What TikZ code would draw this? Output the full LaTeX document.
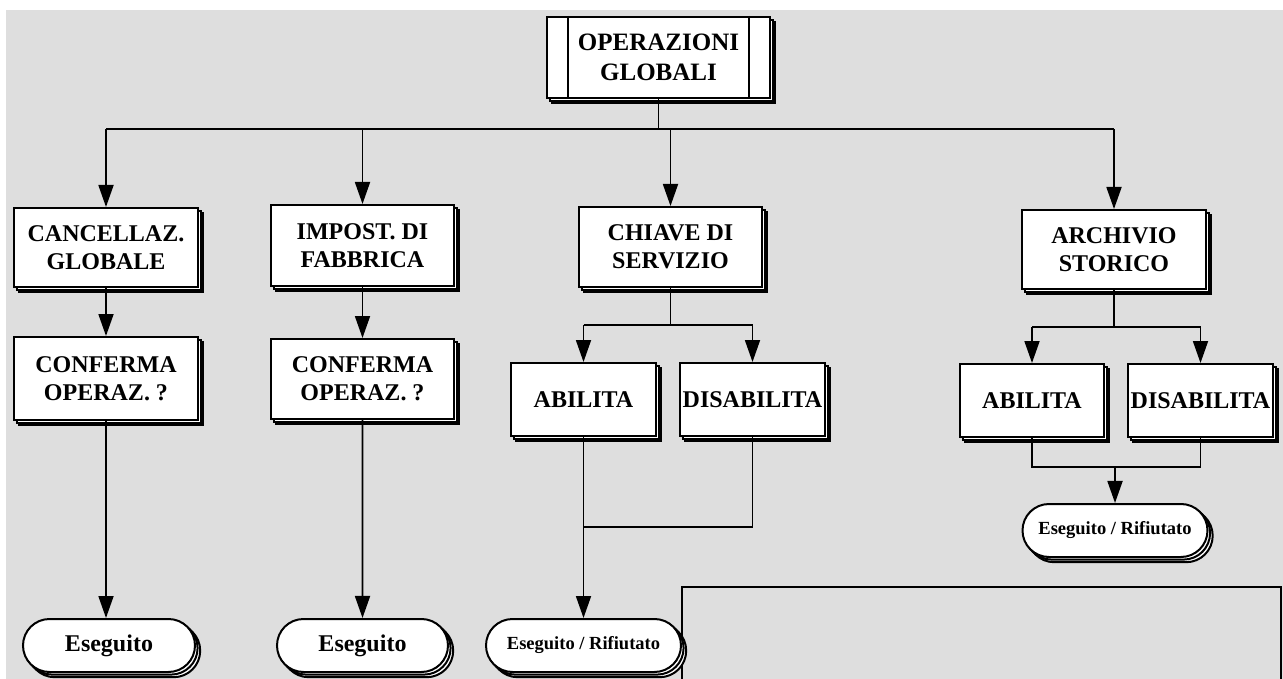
\documentclass[tikz,border=0pt]{standalone}
\usepackage{fontspec}
\setmainfont{Liberation Serif}
\usetikzlibrary{arrows.meta,shapes.misc,shadows}
\definecolor{bggray}{HTML}{DEDEDE}

\begin{document}
\begin{tikzpicture}[x=1pt,y=-1pt,line width=1.8pt,
    box/.style={draw,fill=white,line width=2pt,inner sep=0pt,align=center,
        font=\bfseries\fontsize{24}{28}\selectfont,
        double copy shadow={shadow xshift=2.6pt,shadow yshift=-2.6pt}},
    pill/.style={box,rounded rectangle,minimum height=53pt},
    arr/.style={-{Triangle[length=22pt,width=15pt]}}]
    \useasboundingbox (0,0) rectangle (1283,679);
    \fill[bggray] (6,10) rectangle (1283,679);
    \draw[line width=2pt] (682,679) |- (1281,587) -- (1281,679);
    % top
    \node[box,minimum width=223pt,minimum height=81pt,
        font=\bfseries\fontsize{25}{30}\selectfont] at (658.5,57.5) (og) {OPERAZIONI\\GLOBALI};
    \draw[line width=2pt] ([xshift=22pt]og.north west) -- ([xshift=22pt]og.south west);
    \draw[line width=2pt] ([xshift=-22pt]og.north east) -- ([xshift=-22pt]og.south east);
    % columns
    \node[box,minimum width=184pt,minimum height=79pt] at (106,247.5) (cg) {CANCELLAZ.\\GLOBALE};
    \node[box,minimum width=184pt,minimum height=83pt] at (106,378.5) (cf1) {CONFERMA\\OPERAZ. ?};
    \node[pill,minimum width=172pt] at (109,645.5) (e1) {Eseguito};
    \node[box,minimum width=183pt,minimum height=81pt] at (362.5,245.5) (ip) {IMPOST. DI\\FABBRICA};
    \node[box,minimum width=183pt,minimum height=80pt] at (362.5,379) (cf2) {CONFERMA\\OPERAZ. ?};
    \node[pill,minimum width=171pt] at (362.5,645.5) (e2) {Eseguito};
    \node[box,minimum width=183pt,minimum height=80pt] at (670.5,247) (cs) {CHIAVE DI\\SERVIZIO};
    \node[box,minimum width=145pt,minimum height=73pt] at (583.5,399.5) (ab1) {ABILITA};
    \node[box,minimum width=145pt,minimum height=73pt] at (752.5,399.5) (di1) {DISABILITA};
    \node[pill,minimum width=195pt,font=\bfseries\fontsize{18.5}{20}\selectfont] at (583.5,645.5) (er1) {Eseguito / Rifiutato};
    \node[box,minimum width=184pt,minimum height=79pt] at (1114,249.5) (as) {ARCHIVIO\\STORICO};
    \node[box,minimum width=144pt,minimum height=73pt] at (1032,400.5) (ab2) {ABILITA};
    \node[box,minimum width=145pt,minimum height=73pt] at (1200.5,400.5) (di2) {DISABILITA};
    \node[pill,minimum width=185pt,font=\bfseries\fontsize{18.5}{20}\selectfont] at (1115,530.5) (er2) {Eseguito / Rifiutato};
    % connectors
    \coordinate (bus) at (658.5,129);
    \draw (og.south) -- (bus);
    \draw (cg.north |- bus) -- (as.north |- bus);
    \foreach \n in {cg,ip,cs,as}
        \draw[arr] (\n.north |- bus) -- (\n.north);
    \draw[arr] (cg) -- (cf1);
    \draw[arr] (cf1.south) -- (cf1.south |- e1.north);
    \draw[arr] (ip) -- (cf2);
    \draw[arr] (cf2) -- (e2);
    \coordinate (j1) at (670.5,325);
    \draw (cs.south) -- (j1);
    \draw (ab1.north |- j1) -- (di1.north |- j1);
    \foreach \n in {ab1,di1}
        \draw[arr] (\n.north |- j1) -- (\n.north);
    \coordinate (m1) at (583.5,527);
    \draw (di1.south) |- (m1);
    \draw[arr] (ab1) -- (er1);
    \coordinate (j2) at (1114,327);
    \draw (as.south) -- (j2);
    \draw (ab2.north |- j2) -- (di2.north |- j2);
    \foreach \n in {ab2,di2}
        \draw[arr] (\n.north |- j2) -- (\n.north);
    \coordinate (m2) at (1115,467);
    \draw (ab2.south) |- (m2) -| (di2.south);
    \draw[arr] (m2) -- (er2);
\end{tikzpicture}
\end{document}
